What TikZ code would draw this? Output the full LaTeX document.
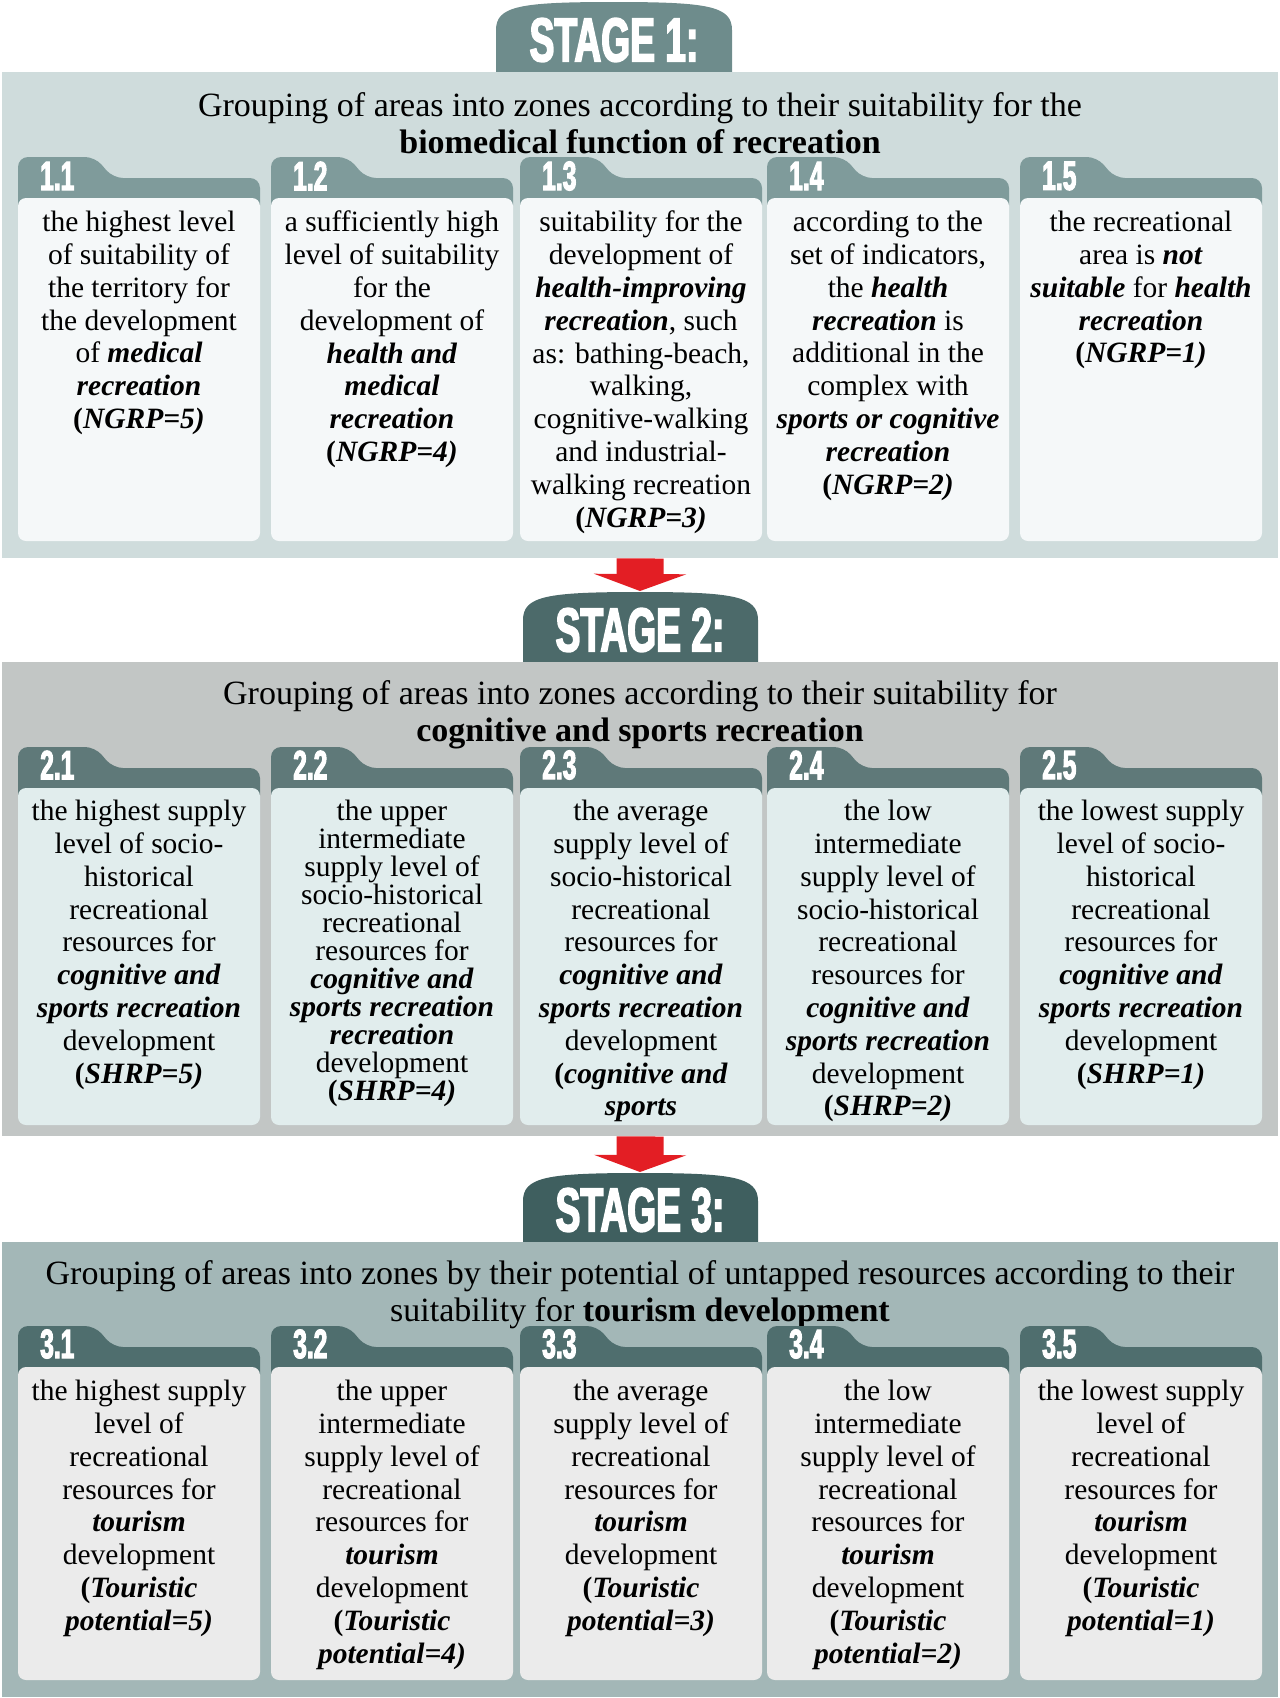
\documentclass[tikz,border=0pt]{standalone}
\usepackage{fontspec}
\setmainfont{Liberation Serif}
\newfontfamily\stagefont[FakeStretch=0.6, FakeBold=2.5]{Liberation Sans}
\usetikzlibrary{arrows.meta}
\newcommand{\bi}[1]{\textbf{\textit{#1}}}
\definecolor{panelA}{HTML}{CFDCDC}
\definecolor{tabA}{HTML}{6E8C8C}
\definecolor{cardtabA}{HTML}{7F9B9B}
\definecolor{cardA}{HTML}{F5F8F9}
\definecolor{panelB}{HTML}{C2C6C5}
\definecolor{tabB}{HTML}{4C6A6A}
\definecolor{cardtabB}{HTML}{5F7979}
\definecolor{cardB}{HTML}{E1EDED}
\definecolor{panelC}{HTML}{A3B7B7}
\definecolor{tabC}{HTML}{3F5F5F}
\definecolor{cardtabC}{HTML}{4F6E6E}
\definecolor{cardC}{HTML}{EBEBEB}
\definecolor{arrowred}{HTML}{E31E24}

\begin{document}
\begin{tikzpicture}[x=1pt, y=-1pt,
    panel/.style={anchor=north west, minimum width=1276pt, inner sep=0pt},
    stagelabel/.style={text=white, inner sep=0pt, font=\stagefont\bfseries\fontsize{62}{62}\selectfont},
    cardnum/.style={anchor=west, text=white, inner sep=0pt, font=\stagefont\bfseries\fontsize{41}{41}\selectfont},
    heading/.style={anchor=north, align=center, inner sep=0pt, font=\fontsize{34}{37}\selectfont},
    cardtext/.style={anchor=north, align=center, inner sep=0pt, font=\fontsize{29.5}{32.8}\selectfont},
    redarrow/.style={draw=arrowred, line width=47pt, -{Triangle[width=92pt, length=17pt]}}]
  \useasboundingbox (0, 0) rectangle (1280, 1698);

  % stage 1: tab, panel, heading
  \fill [fill=tabA] (496, 72) -- (496, 30) .. controls (496, 6) and (520, 2) .. (614, 2)
    .. controls (708, 2) and (732, 6) .. (732, 30) -- (732, 72) -- cycle;
  \node (stage1) [stagelabel] at (614, 40) {STAGE 1:};
  \node (panel1) [panel, fill=panelA, minimum height=486pt] at (2, 72) {};
  \node (head1) [heading] at (640, 92) {Grouping of areas into zones according to their suitability for the\\
    \textbf{biomedical function of recreation}};
  % stage 1 cards
  \foreach \x/\n in {18/1, 271/2, 520/3, 767/4, 1020/5} {
    \fill [fill=cardtabA, rounded corners=10pt] (\x, 215) -- (\x, 157) -- (\x + 77, 157)
      -- (\x + 95, 178) -- (\x + 242, 178) -- (\x + 242, 215) -- cycle;
    \fill [fill=cardA, rounded corners=8pt] (\x, 198) rectangle (\x + 242, 541);
    \node (num1\n) [cardnum] at (\x + 22, 176) {1.\n};
  }
  \node (card11) [cardtext] at (139, 211) {the highest level\\ of suitability of\\ the territory for\\
    the development\\ of \bi{medical}\\ \bi{recreation}\\ \textbf{(}\bi{NGRP=5)}};
  \node (card12) [cardtext] at (392, 211) {a sufficiently high\\ level of suitability\\ for the\\
    development of\\ \bi{health and}\\ \bi{medical}\\ \bi{recreation}\\ \textbf{(}\bi{NGRP=4)}};
  \node (card13) [cardtext] at (641, 211) {suitability for the\\ development of\\ \bi{health-improving}\\
    \bi{recreation}, such\\ as: bathing-beach,\\ walking,\\ cognitive-walking\\ and industrial-\\
    walking recreation\\ \textbf{(}\bi{NGRP=3)}};
  \node (card14) [cardtext] at (888, 211) {according to the\\ set of indicators,\\ the \bi{health}\\
    \bi{recreation} is\\ additional in the\\ complex with\\ \bi{sports or cognitive}\\
    \bi{recreation}\\ \textbf{(}\bi{NGRP=2)}};
  \node (card15) [cardtext] at (1141, 211) {the recreational\\ area is \bi{not}\\
    \bi{suitable} for \bi{health}\\ \bi{recreation}\\ \textbf{(}\bi{NGRP=1)}};

  % stage 2: tab, panel, heading
  \fill [fill=tabB] (523, 662) -- (523, 620) .. controls (523, 596) and (547, 592) .. (640, 592)
    .. controls (733, 592) and (758, 596) .. (758, 620) -- (758, 662) -- cycle;
  \coordinate (top2) at (640, 591);
  \node (stage2) [stagelabel] at (640, 630) {STAGE 2:};
  \node (panel2) [panel, fill=panelB, minimum height=474pt] at (2, 662) {};
  \node (head2) [heading] at (640, 680) {Grouping of areas into zones according to their suitability for\\
    \textbf{cognitive and sports recreation}};
  % stage 2 cards
  \foreach \x/\n in {18/1, 271/2, 520/3, 767/4, 1020/5} {
    \fill [fill=cardtabB, rounded corners=10pt] (\x, 805) -- (\x, 747) -- (\x + 77, 747)
      -- (\x + 95, 768) -- (\x + 242, 768) -- (\x + 242, 805) -- cycle;
    \fill [fill=cardB, rounded corners=8pt] (\x, 788) rectangle (\x + 242, 1125);
    \node (num2\n) [cardnum] at (\x + 22, 765) {2.\n};
  }
  \node (card21) [cardtext] at (139, 800) {the highest supply\\ level of socio-\\ historical\\
    recreational\\ resources for\\ \bi{cognitive and}\\ \bi{sports recreation}\\ development\\
    \textbf{(}\bi{SHRP=5)}};
  \node (card22) [cardtext, font=\fontsize{29.5}{28}\selectfont] at (392, 800) {the upper\\
    intermediate\\ supply level of\\ socio-historical\\ recreational\\ resources for\\
    \bi{cognitive and}\\ \bi{sports recreation}\\ \bi{recreation}\\ development\\ \textbf{(}\bi{SHRP=4)}};
  \node (card23) [cardtext] at (641, 800) {the average\\ supply level of\\ socio-historical\\
    recreational\\ resources for\\ \bi{cognitive and}\\ \bi{sports recreation}\\ development\\
    \textbf{(}\bi{cognitive and}\\ \bi{sports}};
  \node (card24) [cardtext] at (888, 800) {the low\\ intermediate\\ supply level of\\
    socio-historical\\ recreational\\ resources for\\ \bi{cognitive and}\\ \bi{sports recreation}\\
    development\\ \textbf{(}\bi{SHRP=2)}};
  \node (card25) [cardtext] at (1141, 800) {the lowest supply\\ level of socio-\\ historical\\
    recreational\\ resources for\\ \bi{cognitive and}\\ \bi{sports recreation}\\ development\\
    \textbf{(}\bi{SHRP=1)}};

  % stage 3: tab, panel, heading
  \fill [fill=tabC] (523, 1242) -- (523, 1201) .. controls (523, 1177) and (547, 1173) .. (640, 1173)
    .. controls (733, 1173) and (758, 1177) .. (758, 1201) -- (758, 1242) -- cycle;
  \coordinate (top3) at (640, 1172);
  \node (stage3) [stagelabel] at (640, 1210) {STAGE 3:};
  \node (panel3) [panel, fill=panelC, minimum height=455pt] at (2, 1242) {};
  \node (head3) [heading] at (640, 1260) {Grouping of areas into zones by their potential of untapped resources according to their\\
    suitability for \textbf{tourism development}};
  % stage 3 cards
  \foreach \x/\n in {18/1, 271/2, 520/3, 767/4, 1020/5} {
    \fill [fill=cardtabC, rounded corners=10pt] (\x, 1384) -- (\x, 1326) -- (\x + 77, 1326)
      -- (\x + 95, 1347) -- (\x + 242, 1347) -- (\x + 242, 1384) -- cycle;
    \fill [fill=cardC, rounded corners=8pt] (\x, 1367) rectangle (\x + 242, 1680);
    \node (num3\n) [cardnum] at (\x + 22, 1344) {3.\n};
  }
  \node (card31) [cardtext] at (139, 1380) {the highest supply\\ level of\\ recreational\\
    resources for\\ \bi{tourism}\\ development\\ \textbf{(}\bi{Touristic}\\ \bi{potential=5)}};
  \node (card32) [cardtext] at (392, 1380) {the upper\\ intermediate\\ supply level of\\
    recreational\\ resources for\\ \bi{tourism}\\ development\\ \textbf{(}\bi{Touristic}\\ \bi{potential=4)}};
  \node (card33) [cardtext] at (641, 1380) {the average\\ supply level of\\ recreational\\
    resources for\\ \bi{tourism}\\ development\\ \textbf{(}\bi{Touristic}\\ \bi{potential=3)}};
  \node (card34) [cardtext] at (888, 1380) {the low\\ intermediate\\ supply level of\\
    recreational\\ resources for\\ \bi{tourism}\\ development\\ \textbf{(}\bi{Touristic}\\ \bi{potential=2)}};
  \node (card35) [cardtext] at (1141, 1380) {the lowest supply\\ level of\\ recreational\\
    resources for\\ \bi{tourism}\\ development\\ \textbf{(}\bi{Touristic}\\ \bi{potential=1)}};

  % arrows between stages
  \draw [redarrow] (panel1.south) -- (top2);
  \draw [redarrow] (panel2.south) -- (top3);
\end{tikzpicture}
\end{document}
